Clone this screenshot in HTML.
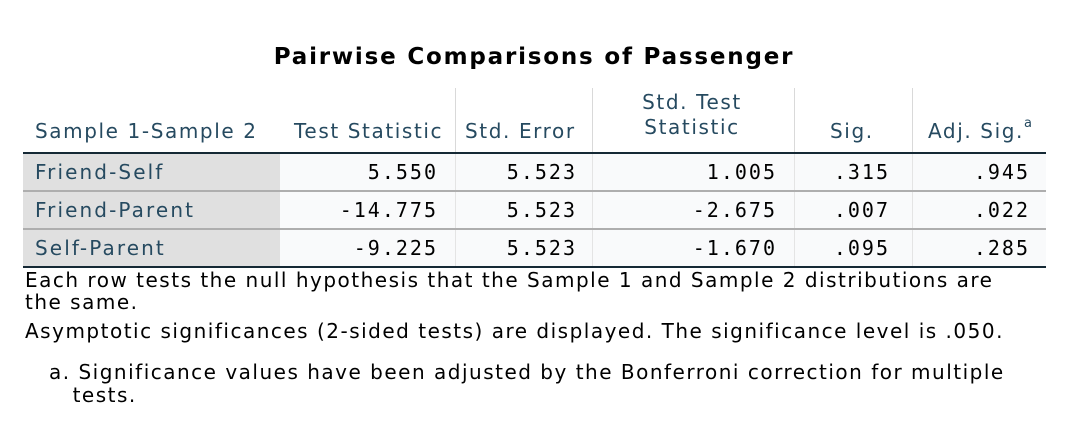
<!DOCTYPE html>
<html><head><meta charset="utf-8"><style>
body{margin:0;width:1078px;height:440px;background:#fff;position:relative;overflow:hidden;font-family:"DejaVu Sans","Liberation Sans",sans-serif}
div{position:absolute}
.h{color:#264a60;font-size:20px;letter-spacing:1.6px;white-space:nowrap}
.c{font-family:"DejaVu Sans Mono","Liberation Mono",monospace;font-size:20px;letter-spacing:2px;color:#000;text-align:right;white-space:nowrap}
.r{color:#264a60;font-size:20px;letter-spacing:2.1px;white-space:nowrap}
.f{font-size:20px;letter-spacing:1.5px;color:#000;white-space:nowrap}
.vl{width:1px;background:#d9d9d9}
</style></head><body>
<div style="left:0;width:1068px;top:44px;text-align:center;font-weight:bold;font-size:23px;letter-spacing:1.8px;color:#000">Pairwise Comparisons of Passenger</div>
<div style="left:0;top:0">
<div class="vl" style="left:455px;top:88px;height:65px"></div>
<div class="vl" style="left:592px;top:88px;height:65px"></div>
<div class="vl" style="left:794px;top:88px;height:65px"></div>
<div class="vl" style="left:912px;top:88px;height:65px"></div>
</div>
<div class="h" style="left:35px;top:119px">Sample 1-Sample 2</div>
<div class="h" style="left:294px;top:119px">Test Statistic</div>
<div class="h" style="left:465px;top:119px">Std. Error</div>
<div class="h" style="left:600px;width:184px;top:90px;text-align:center;line-height:25px">Std. Test<br>Statistic</div>
<div class="h" style="left:830px;top:119px">Sig.</div>
<div class="h" style="left:928px;top:119px">Adj. Sig.<span style="font-size:13px;position:relative;top:-11px">a</span></div>
<div style="left:23px;top:153px;width:1023px;height:114px;background:#f9fafb"></div>
<div style="left:23px;top:153px;width:257px;height:114px;background:#e0e0e0"></div>
<div class="vl" style="left:455px;top:153px;height:114px;background:#e4e4e4"></div>
<div class="vl" style="left:592px;top:153px;height:114px;background:#e4e4e4"></div>
<div class="vl" style="left:794px;top:153px;height:114px;background:#e4e4e4"></div>
<div class="vl" style="left:912px;top:153px;height:114px;background:#e4e4e4"></div>
<div style="left:23px;top:152px;width:1023px;height:2px;background:#152935"></div>
<div style="left:23px;top:190px;width:1023px;height:2px;background:#aeaeae"></div>
<div style="left:23px;top:228px;width:1023px;height:2px;background:#aeaeae"></div>
<div style="left:23px;top:266px;width:1023px;height:2px;background:#152935"></div>

<div class="r" style="left:35px;top:160px">Friend-Self</div>
<div class="r" style="left:35px;top:198px">Friend-Parent</div>
<div class="r" style="left:35px;top:236px">Self-Parent</div>

<div class="c" style="right:640px;top:160px">5.550</div>
<div class="c" style="right:501px;top:160px">5.523</div>
<div class="c" style="right:301px;top:160px">1.005</div>
<div class="c" style="right:188px;top:160px">.315</div>
<div class="c" style="right:48px;top:160px">.945</div>

<div class="c" style="right:640px;top:198px">-14.775</div>
<div class="c" style="right:501px;top:198px">5.523</div>
<div class="c" style="right:301px;top:198px">-2.675</div>
<div class="c" style="right:188px;top:198px">.007</div>
<div class="c" style="right:48px;top:198px">.022</div>

<div class="c" style="right:640px;top:236px">-9.225</div>
<div class="c" style="right:501px;top:236px">5.523</div>
<div class="c" style="right:301px;top:236px">-1.670</div>
<div class="c" style="right:188px;top:236px">.095</div>
<div class="c" style="right:48px;top:236px">.285</div>

<div class="f" style="left:25px;top:269px;line-height:22px">Each row tests the null hypothesis that the Sample 1 and Sample 2 distributions are<br>the same.</div>
<div class="f" style="left:25px;top:319px">Asymptotic significances (2-sided tests) are displayed. The significance level is .050.</div>
<div class="f" style="left:49px;top:361px;line-height:23px">a. Significance values have been adjusted by the Bonferroni correction for multiple<br>&nbsp;&nbsp;&nbsp;tests.</div>
</body></html>
